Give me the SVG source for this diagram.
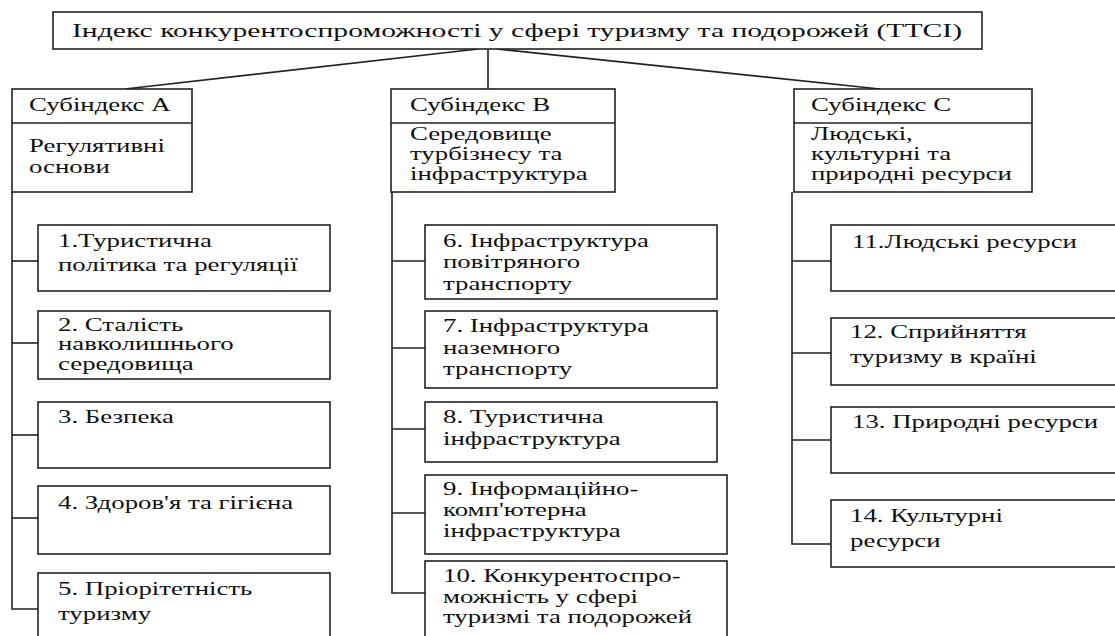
<svg xmlns="http://www.w3.org/2000/svg" width="1115" height="636" viewBox="0 0 1115 636">
<style>
.box{fill:#fff;stroke:#222;stroke-width:1.6}
.ln{fill:none;stroke:#222;stroke-width:1.6}
.t{font-family:"Liberation Serif","Times New Roman",serif;font-size:18.5px;fill:#111}
</style>
<rect width="1115" height="636" fill="#fff"/>
<g id="connectors">
<line class="ln" x1="478" y1="49" x2="125" y2="89"/>
<line class="ln" x1="488" y1="49" x2="488" y2="89"/>
<line class="ln" x1="497" y1="49" x2="880" y2="89"/>
<polyline class="ln" points="12,192 12,609 38,609"/>
<line class="ln" x1="12" y1="261" x2="38" y2="261"/>
<line class="ln" x1="12" y1="343" x2="38" y2="343"/>
<line class="ln" x1="12" y1="435" x2="38" y2="435"/>
<line class="ln" x1="12" y1="518" x2="38" y2="518"/>
<polyline class="ln" points="392,192 392,593 425,593"/>
<line class="ln" x1="392" y1="261" x2="425" y2="261"/>
<line class="ln" x1="392" y1="348" x2="425" y2="348"/>
<line class="ln" x1="392" y1="429" x2="425" y2="429"/>
<line class="ln" x1="392" y1="513" x2="425" y2="513"/>
<polyline class="ln" points="792,192 792,544 831,544"/>
<line class="ln" x1="792" y1="261" x2="831" y2="261"/>
<line class="ln" x1="792" y1="353" x2="831" y2="353"/>
<line class="ln" x1="792" y1="440" x2="831" y2="440"/>
</g>
<g id="title">
<rect class="box" x="53" y="12" width="929" height="37"/>
<text class="t" x="72" y="37" textLength="890" lengthAdjust="spacingAndGlyphs">Індекс конкурентоспроможності у сфері туризму та подорожей (ТТСІ)</text>
</g>
<g id="subA">
<rect class="box" x="12" y="89" width="180" height="103"/>
<line class="ln" x1="12" y1="123" x2="192" y2="123"/>
<text class="t" transform="translate(29 111) scale(1.45 1)">Субіндекс А</text>
<text class="t" transform="translate(29 152) scale(1.45 1)"><tspan x="0" y="0">Регулятивні</tspan><tspan x="0" y="21">основи</tspan></text>
</g>
<g id="subB">
<rect class="box" x="391" y="89" width="224" height="103"/>
<line class="ln" x1="391" y1="123" x2="615" y2="123"/>
<text class="t" transform="translate(410 111) scale(1.45 1)">Субіндекс В</text>
<text class="t" transform="translate(410 140) scale(1.45 1)"><tspan x="0" y="0">Середовище</tspan><tspan x="0" y="20">турбізнесу та</tspan><tspan x="0" y="40">інфраструктура</tspan></text>
</g>
<g id="subC">
<rect class="box" x="794" y="89" width="238" height="103"/>
<line class="ln" x1="794" y1="123" x2="1032" y2="123"/>
<text class="t" transform="translate(811 111) scale(1.45 1)">Субіндекс С</text>
<text class="t" transform="translate(811 140) scale(1.45 1)"><tspan x="0" y="0">Людські,</tspan><tspan x="0" y="20">культурні та</tspan><tspan x="0" y="40">природні ресурси</tspan></text>
</g>
<g id="n1">
<rect class="box" x="38" y="225" width="292" height="66"/>
<text class="t" transform="translate(58 247) scale(1.45 1)"><tspan x="0" y="0">1.Туристична</tspan><tspan x="0" y="24">політика та регуляції</tspan></text>
</g>
<g id="n2">
<rect class="box" x="38" y="311" width="292" height="68"/>
<text class="t" transform="translate(58 331) scale(1.45 1)"><tspan x="0" y="0">2. Сталість</tspan><tspan x="0" y="19.5">навколишнього</tspan><tspan x="0" y="39">середовища</tspan></text>
</g>
<g id="n3">
<rect class="box" x="38" y="402" width="292" height="66"/>
<text class="t" transform="translate(58 423) scale(1.45 1)">3. Безпека</text>
</g>
<g id="n4">
<rect class="box" x="38" y="486" width="292" height="68"/>
<text class="t" transform="translate(58 509) scale(1.45 1)">4. Здоров'я та гігієна</text>
</g>
<g id="n5">
<rect class="box" x="38" y="573" width="292" height="80"/>
<text class="t" transform="translate(58 595) scale(1.45 1)"><tspan x="0" y="0">5. Пріорітетність</tspan><tspan x="0" y="25">туризму</tspan></text>
</g>
<g id="n6">
<rect class="box" x="425" y="225" width="292" height="74"/>
<text class="t" transform="translate(443 247) scale(1.45 1)"><tspan x="0" y="0">6. Інфраструктура</tspan><tspan x="0" y="21">повітряного</tspan><tspan x="0" y="43">транспорту</tspan></text>
</g>
<g id="n7">
<rect class="box" x="425" y="311" width="292" height="77"/>
<text class="t" transform="translate(443 332) scale(1.45 1)"><tspan x="0" y="0">7. Інфраструктура</tspan><tspan x="0" y="22">наземного</tspan><tspan x="0" y="43">транспорту</tspan></text>
</g>
<g id="n8">
<rect class="box" x="425" y="402" width="292" height="60"/>
<text class="t" transform="translate(443 423) scale(1.45 1)"><tspan x="0" y="0">8. Туристична</tspan><tspan x="0" y="22">інфраструктура</tspan></text>
</g>
<g id="n9">
<rect class="box" x="425" y="475" width="302" height="79"/>
<text class="t" transform="translate(443 495) scale(1.45 1)"><tspan x="0" y="0">9. Інформаційно-</tspan><tspan x="0" y="21">комп'ютерна</tspan><tspan x="0" y="42">інфраструктура</tspan></text>
</g>
<g id="n10">
<rect class="box" x="425" y="561" width="302" height="90"/>
<text class="t" transform="translate(443 582) scale(1.45 1)"><tspan x="0" y="0">10. Конкурентоспро-</tspan><tspan x="0" y="21">можність у сфері</tspan><tspan x="0" y="41">туризмі та подорожей</tspan></text>
</g>
<g id="n11">
<rect class="box" x="831" y="225" width="300" height="66"/>
<text class="t" transform="translate(852 248) scale(1.45 1)">11.Людські ресурси</text>
</g>
<g id="n12">
<rect class="box" x="831" y="318" width="300" height="67"/>
<text class="t" transform="translate(850 338) scale(1.45 1)"><tspan x="0" y="0">12. Сприйняття</tspan><tspan x="0" y="25">туризму в країні</tspan></text>
</g>
<g id="n13">
<rect class="box" x="831" y="407" width="300" height="66"/>
<text class="t" transform="translate(852 428) scale(1.45 1)">13. Природні ресурси</text>
</g>
<g id="n14">
<rect class="box" x="831" y="500" width="300" height="67"/>
<text class="t" transform="translate(850 522) scale(1.45 1)"><tspan x="0" y="0">14. Культурні</tspan><tspan x="0" y="25">ресурси</tspan></text>
</g>
</svg>
